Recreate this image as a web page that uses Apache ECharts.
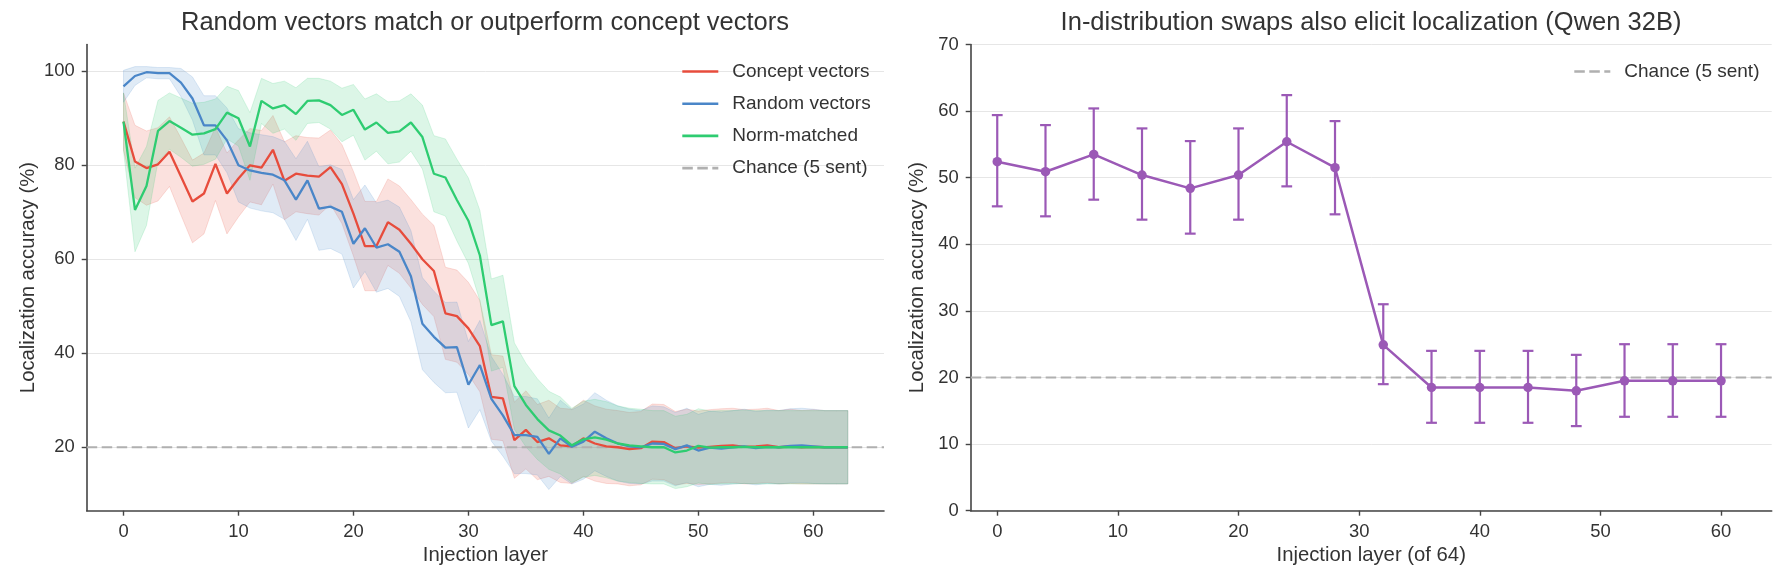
<!DOCTYPE html>
<html>
<head>
<meta charset="utf-8">
<script src="https://cdn.jsdelivr.net/npm/echarts@6/dist/echarts.min.js"></script>
<style>
html, body { margin: 0; padding: 0; background: #fff; }
#chart { width: 1785px; height: 585px; }
</style>
</head>
<body>
<div id="chart"></div>
<script>
let $ = a=>document.querySelector(a)

// 左图数据 (layer 0..63)
const layers = [0,1,2,3,4,5,6,7,8,9,10,11,12,13,14,15,16,17,18,19,20,21,22,23,24,25,26,27,28,29,30,31,
    32,33,34,35,36,37,38,39,40,41,42,43,44,45,46,47,48,49,50,51,52,53,54,55,56,57,58,59,60,61,62,63]

const conceptMean = [89.3,80.8,79.4,80.2,82.9,77.6,72.3,74.0,80.3,74.0,
    77.2,80.0,79.5,83.3,76.7,78.2,77.8,77.6,79.6,76.0,
    69.7,62.8,62.8,67.9,66.3,63.3,60.0,57.5,48.5,47.9,
    45.3,41.5,30.7,30.4,21.5,23.7,21.1,21.9,20.4,20.2,
    21.9,20.8,20.2,20.0,19.6,19.8,21.2,21.1,19.8,20.2,
    19.9,20.1,20.3,20.4,20.1,20.2,20.4,20.0,20.2,20.0,
    20.1,20.0,20.0,20.0]
const randomMean = [96.8,99.0,99.8,99.6,99.6,97.6,94.2,88.5,88.5,85.3,
    80.0,78.9,78.4,78.0,76.8,72.7,76.8,70.8,71.2,70.1,
    63.3,66.6,62.5,63.2,61.6,56.4,46.3,43.5,41.2,41.3,
    33.3,37.5,30.3,26.8,22.6,22.6,22.2,18.6,21.9,20.1,
    21.2,23.3,21.9,20.8,20.2,20.0,20.8,20.7,19.6,20.4,
    19.3,19.9,19.7,20.0,20.2,19.8,20.1,20.0,20.3,20.4,
    20.2,20.0,20.0,20.0]
const normMean = [89.3,70.5,75.6,87.3,89.4,88.0,86.5,86.8,87.7,91.2,
    90.0,84.0,93.7,92.1,92.8,90.9,93.7,93.8,92.8,90.7,
    91.8,87.6,89.1,86.9,87.2,89.1,86.0,78.2,77.4,72.6,
    68.2,60.8,46.0,46.8,33.0,29.0,26.0,23.6,22.5,20.4,
    21.7,22.1,21.6,20.8,20.4,20.2,20.0,20.0,18.9,19.3,
    20.3,19.9,20.0,20.0,20.1,20.0,20.0,20.0,20.0,20.0,
    20.0,20.0,20.0,20.0]

// 置信区间半宽
const conceptErr = [6.1,7.7,7.9,7.8,7.4,8.2,8.8,8.6,7.8,8.6,
    8.2,7.8,7.9,7.3,8.3,8.1,8.1,8.2,7.9,8.4,
    9.0,9.5,9.5,9.2,9.3,9.4,9.6,9.7,9.8,9.8,
    9.8,9.7,9.0,9.0,8.1,8.3,8.0,8.1,7.9,7.9,
    8.1,8.0,7.9,7.8,7.8,7.8,8.0,8.0,7.8,7.9,
    7.8,7.9,7.9,7.9,7.9,7.9,7.9,7.8,7.9,7.8,
    7.9,7.8,7.8,7.8]
const randomErr = [3.4,2.0,1.2,1.2,1.2,3.0,4.6,6.3,6.3,6.9,
    7.8,8.0,8.1,8.1,8.3,8.7,8.3,8.9,8.9,9.0,
    9.4,9.2,9.5,9.4,9.5,9.7,9.8,9.7,9.6,9.6,
    9.2,9.5,9.0,8.7,8.2,8.2,8.1,7.6,8.1,7.9,
    8.0,8.3,8.1,8.0,7.9,7.8,8.0,7.9,7.8,7.9,
    7.7,7.8,7.8,7.8,7.9,7.8,7.8,7.8,7.9,7.9,
    7.9,7.8,7.8,7.8]
const normErr = [6.1,8.9,8.4,6.5,6.0,6.3,6.7,6.6,6.4,5.6,
    5.9,7.2,4.8,5.3,5.1,5.6,4.8,4.7,5.1,5.7,
    5.4,6.5,6.1,6.6,6.5,6.1,6.8,8.1,8.2,8.7,
    9.1,9.6,9.8,9.8,9.2,8.9,8.6,8.3,8.2,7.9,
    8.1,8.1,8.1,8.0,7.9,7.9,7.8,7.8,7.7,7.7,
    7.9,7.8,7.8,7.8,7.8,7.8,7.8,7.8,7.8,7.8,
    7.8,7.8,7.8,7.8]

const chance = 20
const leftXTicks = [0, 10, 20, 30, 40, 50, 60]
const leftYTicks = [20, 40, 60, 80, 100]

// 右图数据 (Qwen 32B)
const swapLayers = [0,4,8,12,16,20,24,28,32,36,40,44,48,52,56,60]
const swapMean = [52.4,50.9,53.5,50.4,48.4,50.4,55.4,51.5,24.9,18.5,18.5,18.5,18.0,19.5,19.5,19.5]
const swapLow  = [45.7,44.2,46.7,43.7,41.6,43.7,48.7,44.5,19.0,13.2,13.2,13.2,12.7,14.1,14.1,14.1]
const swapHigh = [59.4,57.9,60.4,57.4,55.5,57.4,62.4,58.5,31.0,24.0,24.0,24.0,23.4,25.0,25.0,25.0]
const rightXTicks = [0, 10, 20, 30, 40, 50, 60]

const font = '"Liberation Sans", Arial, Helvetica, sans-serif'
const textColor = '#333'
const spine = '#444'
const colors = {
    concept: '#e74c3c',
    random: '#4a86c8',
    norm: '#2ecc71',
    swap: '#9b59b6',
    chance: '#b0b0b0'
}

const leftX = [-3.2, 66.15]
const rightX = [-2.2, 64.2]

function pairs(xs, ys) {
    return xs.map((x, i) => [x, ys[i]])
}

// 置信带: 用一个多边形画 (上沿 + 反向下沿)
function band(mean, err, color) {
    return {
        type: 'custom', xAxisIndex: 0, yAxisIndex: 0, silent: true, z: 1,
        data: layers.map((x, i) => [x, mean[i] - err[i], mean[i] + err[i]]),
        encode: { x: 0, y: [1, 2] },
        renderItem: (params, api) => {
            if (params.dataIndex !== 0) return
            let up = layers.map((x, i) => api.coord([x, mean[i] + err[i]]))
            let dn = layers.map((x, i) => api.coord([x, mean[i] - err[i]])).reverse()
            return {
                type: 'polygon',
                shape: { points: up.concat(dn) },
                style: { fill: color, stroke: color, lineWidth: 1, opacity: 0.17 }
            }
        }
    }
}

function mainLine(name, mean, color) {
    return {
        name: name, type: 'line', xAxisIndex: 0, yAxisIndex: 0,
        data: pairs(layers, mean),
        symbol: 'none', z: 4,
        lineStyle: { color: color, width: 2.3 },
        itemStyle: { color: color }
    }
}

function chanceLine(xIdx, ext) {
    return {
        name: 'Chance (5 sent)', type: 'line', xAxisIndex: xIdx, yAxisIndex: xIdx,
        data: [[ext[0], chance], [ext[1], chance]],
        symbol: 'none', z: 3, silent: true,
        lineStyle: { color: colors.chance, width: 2.2, type: [10.5, 4.5] },
        itemStyle: { color: colors.chance }
    }
}

const axisCommon = {
    axisLine: { onZero: false, lineStyle: { color: spine, width: 1.6 } },
    axisTick: { length: 5, lineStyle: { color: spine, width: 1.4 } },
    axisLabel: { color: textColor, fontSize: 18.4, fontFamily: font, margin: 12 },
    nameTextStyle: { color: textColor, fontSize: 20.3, fontFamily: font },
    nameLocation: 'middle'
}

const legendCommon = {
    orient: 'vertical', top: 62, padding: 0,
    itemWidth: 36, itemHeight: 14, itemGap: 13.2,
    selectedMode: false,
    itemStyle: { opacity: 0 },
    lineStyle: { width: 2.6 },
    textStyle: { color: textColor, fontSize: 19, fontFamily: font, padding: [0, 0, 0, 9] }
}

const titleStyle = { color: textColor, fontSize: 25.5, fontWeight: 'normal', fontFamily: font }

echarts.init($('#chart')).setOption({
    animation: false,
    backgroundColor: '#fff',
    title: [
        {
            text: 'Random vectors match or outperform concept vectors',
            left: 485, top: 10, textAlign: 'center', padding: 0,
            textStyle: titleStyle
        },
        {
            text: 'In-distribution swaps also elicit localization (Qwen 32B)',
            left: 1371, top: 10, textAlign: 'center', padding: 0,
            textStyle: titleStyle
        }
    ],
    legend: [
        Object.assign({}, legendCommon, {
            data: ['Concept vectors', 'Random vectors', 'Norm-matched', 'Chance (5 sent)'],
            left: 681
        }),
        Object.assign({}, legendCommon, {
            data: ['Chance (5 sent)'],
            left: 1573
        })
    ],
    grid: [
        { left: 86.7, right: 901, top: 44.5, bottom: 74.3 },
        { left: 970.7, right: 13.3, top: 44.5, bottom: 74.3 }
    ],
    xAxis: [
        Object.assign({}, axisCommon, {
            type: 'value', gridIndex: 0, min: leftX[0], max: leftX[1],
            name: 'Injection layer', nameGap: 35,
            axisTick: Object.assign({}, axisCommon.axisTick, { customValues: leftXTicks }),
            axisLabel: Object.assign({}, axisCommon.axisLabel, { customValues: leftXTicks }),
            splitLine: { show: false }
        }),
        Object.assign({}, axisCommon, {
            type: 'value', gridIndex: 1, min: rightX[0], max: rightX[1],
            name: 'Injection layer (of 64)', nameGap: 35,
            axisTick: Object.assign({}, axisCommon.axisTick, { customValues: rightXTicks }),
            axisLabel: Object.assign({}, axisCommon.axisLabel, { customValues: rightXTicks }),
            splitLine: { show: false }
        })
    ],
    yAxis: [
        Object.assign({}, axisCommon, {
            type: 'value', gridIndex: 0, min: 6.5, max: 105.7,
            name: 'Localization accuracy (%)', nameGap: 48,
            axisTick: Object.assign({}, axisCommon.axisTick, { customValues: leftYTicks }),
            axisLabel: Object.assign({}, axisCommon.axisLabel, { customValues: leftYTicks }),
            splitLine: { show: true, lineStyle: { color: '#e6e6e6', width: 1 } }
        }),
        Object.assign({}, axisCommon, {
            type: 'value', gridIndex: 1, min: 0, max: 70, interval: 10,
            name: 'Localization accuracy (%)', nameGap: 43,
            splitLine: { show: true, lineStyle: { color: '#e6e6e6', width: 1 } }
        })
    ],
    series: [
        band(conceptMean, conceptErr, colors.concept),
        band(randomMean, randomErr, colors.random),
        band(normMean, normErr, colors.norm),
        chanceLine(0, leftX),
        mainLine('Concept vectors', conceptMean, colors.concept),
        mainLine('Random vectors', randomMean, colors.random),
        mainLine('Norm-matched', normMean, colors.norm),

        // 右图
        chanceLine(1, rightX),
        {
            type: 'custom', xAxisIndex: 1, yAxisIndex: 1, z: 4,
            data: swapLayers.map((x, i) => [x, swapLow[i], swapHigh[i]]),
            encode: { x: 0, y: [1, 2] },
            renderItem: (params, api) => {
                let x = api.value(0)
                let lo = api.coord([x, api.value(1)])
                let hi = api.coord([x, api.value(2)])
                let w = 5.4
                let style = { stroke: colors.swap, lineWidth: 2.2 }
                return {
                    type: 'group',
                    children: [
                        { type: 'line', shape: { x1: lo[0], y1: lo[1], x2: hi[0], y2: hi[1] }, style: style },
                        { type: 'line', shape: { x1: lo[0] - w, y1: lo[1], x2: lo[0] + w, y2: lo[1] }, style: style },
                        { type: 'line', shape: { x1: hi[0] - w, y1: hi[1], x2: hi[0] + w, y2: hi[1] }, style: style }
                    ]
                }
            }
        },
        {
            name: 'swap', type: 'line', xAxisIndex: 1, yAxisIndex: 1, z: 5,
            data: pairs(swapLayers, swapMean),
            symbol: 'circle', symbolSize: 9.5,
            lineStyle: { color: colors.swap, width: 2.5 },
            itemStyle: { color: colors.swap }
        }
    ]
})
</script>
</body>
</html>
